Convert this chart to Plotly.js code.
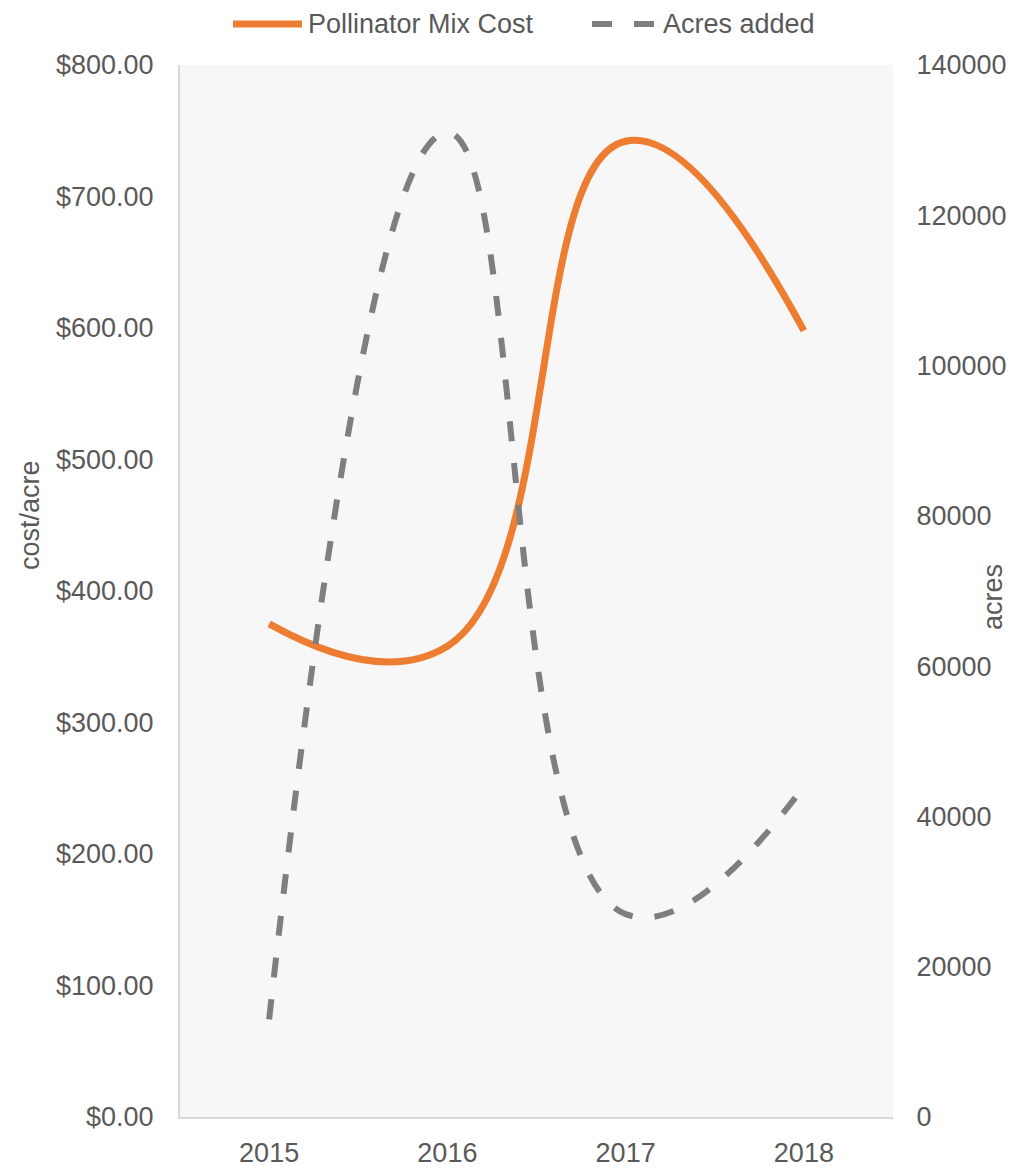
<!DOCTYPE html>
<html>
<head>
<meta charset="utf-8">
<script src="https://cdn.plot.ly/plotly-3.0.1.min.js"></script>
<style>
  html, body { margin: 0; padding: 0; background: #ffffff; }
  #chart { width: 1011px; height: 1169px; }
</style>
</head>
<body>
<div id="chart"></div>
<script>
// ---- data ----
const years = ["2015", "2016", "2017", "2018"];
const mixCost = [375, 358, 742, 598];          // $/acre
const acresAdded = [13000, 131000, 27000, 44000]; // acres
const seriesNames = ["Pollinator Mix Cost", "Acres added"];
const leftTitle = "cost/acre";
const rightTitle = "acres";

const FONT = "'Liberation Sans', Arial, sans-serif";
const FS = 27;
const TXT = "#595959";
const ORANGE = "#ED7D31";
const GRAY = "#7F7F7F";

const traces = [
  {
    x: years, y: mixCost, name: seriesNames[0], type: "scatter", mode: "lines",
    line: { color: ORANGE, width: 7, shape: "spline", smoothing: 1.3 },
    yaxis: "y", showlegend: false, hoverinfo: "skip"
  },
  {
    x: years, y: acresAdded, name: seriesNames[1], type: "scatter", mode: "lines",
    line: { color: GRAY, width: 6, shape: "spline", smoothing: 1.3, dash: "20px,22px" },
    yaxis: "y2", showlegend: false, hoverinfo: "skip"
  }
];

const W = 1011, H = 1169;
const L = 180, R = 118, T = 65, B = 52;
const pw = W - L - R, ph = H - T - B;
const px = v => (v - L) / pw;
const py = v => (H - B - v) / ph;

const layout = {
  width: W, height: H,
  margin: { l: L, r: R, t: T, b: B, pad: 0 },
  paper_bgcolor: "#ffffff",
  plot_bgcolor: "#F7F7F7",
  font: { family: FONT, size: FS, color: TXT },
  showlegend: false,
  xaxis: {
    type: "category", range: [-0.5, 3.5],
    showgrid: false, zeroline: false,
    showline: true, linecolor: "#D9D9D9", linewidth: 2,
    ticks: "outside", ticklen: 11, tickcolor: "rgba(0,0,0,0)",
    tickfont: { family: FONT, size: FS, color: TXT }
  },
  yaxis: {
    range: [0, 800], dtick: 100, tickprefix: "$", tickformat: ".2f",
    showgrid: false, zeroline: false,
    showline: true, linecolor: "#D9D9D9", linewidth: 2,
    ticks: "outside", ticklen: 19, tickcolor: "rgba(0,0,0,0)",
    tickfont: { family: FONT, size: FS, color: TXT }
  },
  yaxis2: {
    range: [0, 140000], dtick: 20000, tickformat: "d",
    overlaying: "y", side: "right",
    showgrid: false, zeroline: false, showline: false,
    ticks: "outside", ticklen: 17, tickcolor: "rgba(0,0,0,0)",
    tickfont: { family: FONT, size: FS, color: TXT }
  },
  shapes: [
    { type: "line", xref: "paper", yref: "paper",
      x0: px(233), x1: px(302), y0: py(24), y1: py(24),
      line: { color: ORANGE, width: 7 } },
    { type: "line", xref: "paper", yref: "paper",
      x0: px(592), x1: px(655), y0: py(24), y1: py(24),
      line: { color: GRAY, width: 6, dash: "20px,22px" } }
  ],
  annotations: [
    { xref: "paper", yref: "paper", x: px(306), y: py(24), xanchor: "left", yanchor: "middle",
      text: seriesNames[0], showarrow: false, font: { family: FONT, size: FS, color: TXT } },
    { xref: "paper", yref: "paper", x: px(661), y: py(24), xanchor: "left", yanchor: "middle",
      text: seriesNames[1], showarrow: false, font: { family: FONT, size: FS, color: TXT } },
    { xref: "paper", yref: "paper", x: px(30), y: py(515), xanchor: "center", yanchor: "middle",
      text: leftTitle, textangle: -90, showarrow: false, font: { family: FONT, size: FS, color: TXT } },
    { xref: "paper", yref: "paper", x: px(993), y: py(597), xanchor: "center", yanchor: "middle",
      text: rightTitle, textangle: -90, showarrow: false, font: { family: FONT, size: FS, color: TXT } }
  ]
};

Plotly.newPlot("chart", traces, layout, { staticPlot: true, displayModeBar: false });
</script>
</body>
</html>
